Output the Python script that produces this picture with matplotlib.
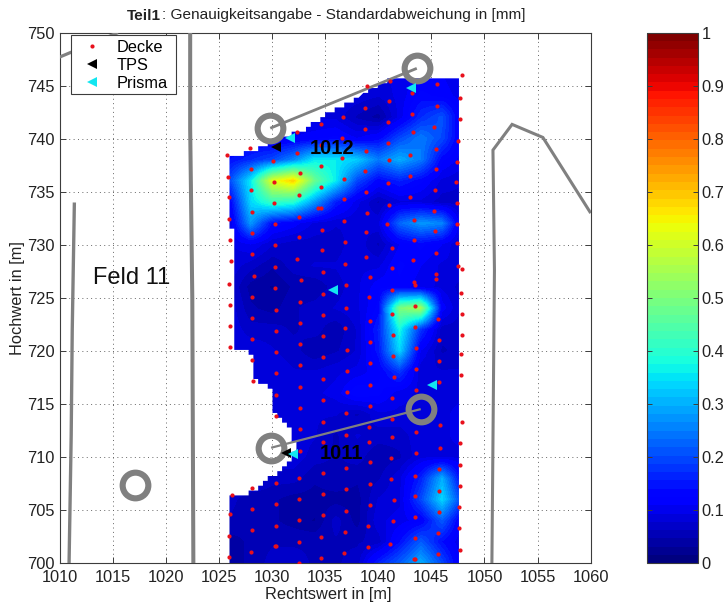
import numpy as np
import matplotlib
matplotlib.use("Agg")
import matplotlib.pyplot as plt
from matplotlib.patches import Polygon, Rectangle
from matplotlib.lines import Line2D

plt.rcParams['font.family'] = ['Liberation Sans', 'DejaVu Sans']

# ---------- data ----------
grid_x = [1026, 1028, 1030, 1032, 1034, 1036, 1038, 1040, 1042, 1044, 1046, 1048]
grid_y = [746, 744, 742, 740, 738, 736, 734, 732, 730, 728, 726, 724,
          722, 720, 718, 716, 714, 712, 710, 708, 706, 704, 702, 700]
grid_z = [
    [.09, .09, .09, .09, .09, .09, .09, .09, .10, .11, .11, .09],
    [.09, .09, .09, .09, .09, .09, .09, .08, .10, .13, .12, .10],
    [.09, .09, .09, .09, .09, .09, .06, .04, .10, .17, .21, .10],
    [.11, .11, .10, .11, .12, .13, .11, .13, .20, .25, .20, .10],
    [.14, .17, .20, .26, .36, .36, .33, .25, .30, .25, .13, .10],
    [.20, .36, .62, .69, .48, .36, .20, .13, .16, .13, .09, .08],
    [.12, .34, .42, .40, .28, .16, .10, .06, .09, .09, .07, .07],
    [.09, .28, .14, .12, .09, .08, .08, .09, .23, .28, .26, .07],
    [.09, .11, .08, .07, .07, .07, .09, .06, .11, .13, .11, .07],
    [.09, .07, .05, .07, .08, .08, .09, .09, .13, .11, .09, .09],
    [.08, .04, .03, .05, .05, .07, .09, .12, .12, .10, .09, .07],
    [.09, .05, .04, .06, .07, .08, .09, .13, .50, .55, .12, .07],
    [.09, .07, .07, .06, .07, .05, .08, .16, .38, .18, .07, .07],
    [.09, .09, .08, .07, .05, .06, .08, .15, .34, .11, .06, .07],
    [.09, .09, .09, .08, .08, .09, .10, .12, .18, .08, .08, .08],
    [.09, .09, .09, .09, .09, .10, .14, .13, .10, .09, .09, .09],
    [.09, .09, .09, .09, .08, .08, .06, .09, .09, .09, .09, .10],
    [.09, .09, .09, .09, .08, .06, .08, .07, .07, .09, .09, .10],
    [.09, .09, .09, .09, .07, .06, .07, .05, .06, .09, .09, .09],
    [.09, .09, .07, .07, .05, .06, .05, .06, .09, .16, .30, .11],
    [.07, .05, .05, .04, .04, .04, .04, .08, .09, .20, .34, .18],
    [.06, .05, .05, .04, .03, .07, .04, .09, .10, .12, .22, .10],
    [.04, .05, .06, .06, .06, .06, .06, .07, .14, .22, .14, .09],
    [.04, .05, .07, .07, .06, .06, .07, .16, .22, .30, .20, .09],
]

deck_x = [
    1025.77, 1025.83, 1026.0, 1025.96, 1026.09, 1026.12, 1026.0, 1026.06, 1026.06, 1026.06, 1026.2, 1026.06, 1026.0, 1025.95,
    1027.97, 1028.03, 1028.03, 1028.1, 1028.1, 1028.16, 1028.29, 1028.16, 1028.16, 1028.16, 1028.16, 1028.23, 1028.16, 1028.16, 1028.1, 1028.03,
    1030.1, 1030.2, 1030.2, 1030.27, 1030.27, 1030.3, 1030.27, 1030.34, 1030.4, 1030.4, 1030.4, 1030.34, 1030.34, 1030.4, 1030.34, 1030.34, 1030.34, 1030.27,
    1032.4, 1032.4, 1032.6, 1032.5, 1032.5, 1032.5, 1032.4, 1032.7, 1032.6, 1032.6, 1032.6, 1032.6, 1032.6, 1032.6, 1032.64, 1032.6, 1032.55, 1032.55, 1032.55, 1032.5, 1032.5,
    1034.62, 1034.6, 1034.6, 1034.62, 1034.3, 1034.6, 1034.7, 1034.7, 1034.78, 1034.78, 1034.78, 1034.78, 1034.78, 1034.78, 1034.78, 1034.78, 1034.78, 1034.78, 1034.78, 1034.78, 1034.62, 1034.62,
    1036.66, 1036.63, 1036.63, 1036.76, 1036.76, 1036.82, 1036.88, 1036.88, 1036.95, 1036.95, 1036.88, 1037.1, 1037.03, 1037.03, 1036.95, 1036.95, 1036.95, 1036.95, 1036.95, 1036.88, 1036.82,
    1038.92, 1038.8, 1038.8, 1038.87, 1038.75, 1038.87, 1038.92, 1038.87, 1038.87, 1039.2, 1039.1, 1039.24, 1039.24, 1039.24, 1039.24, 1039.24, 1039.14, 1039.14, 1039.24, 1039.24, 1039.24, 1039.08, 1039.08,
    1041.1, 1041.06, 1040.93, 1040.93, 1041.03, 1040.9, 1041.0, 1040.84, 1041.28, 1041.25, 1041.28, 1041.34, 1041.37, 1041.37, 1041.44, 1041.3, 1041.27, 1041.27, 1041.18, 1041.24, 1041.47, 1041.37, 1041.14,
    1043.2, 1043.16, 1043.3, 1043.0, 1043.0, 1043.0, 1043.4, 1043.4, 1043.3, 1043.4, 1043.5, 1043.5, 1043.5, 1043.57, 1043.57, 1043.57, 1043.57, 1043.57, 1043.5, 1043.5, 1043.5, 1043.44, 1043.44, 1043.4,
    1045.55, 1045.55, 1045.26, 1045.42, 1045.42, 1045.36, 1045.26, 1045.36, 1045.42, 1045.48, 1045.48, 1045.67, 1045.7, 1045.7, 1045.74, 1045.77, 1045.77, 1045.74, 1045.74, 1045.74, 1045.67, 1045.64,
    1047.93, 1047.74, 1047.74, 1047.52, 1047.43, 1047.3, 1047.4, 1047.4, 1047.4, 1047.52, 1047.87, 1047.77, 1047.9, 1047.87, 1047.8, 1047.8, 1047.9, 1047.72, 1047.72, 1047.72, 1047.62, 1047.65, 1047.72,
]
deck_y = [
    738.47, 736.43, 734.51, 732.47, 730.43, 728.45, 726.34, 724.37, 722.36, 720.37, 706.4, 704.6, 702.6, 700.64,
    739.16, 737.18, 735.14, 733.13, 731.12, 729.11, 727.07, 725.09, 723.11, 721.13, 719.2, 717.17, 707.12, 705.08, 703.1, 701.1,
    737.87, 735.96, 733.91, 731.94, 729.96, 727.88, 725.9, 723.86, 721.9, 719.9, 717.9, 715.87, 713.9, 707.55, 705.57, 703.55, 701.6, 701.6,
    740.64, 738.69, 736.74, 734.73, 732.66, 730.71, 728.67, 726.69, 724.65, 722.64, 720.66, 718.68, 716.63, 714.65, 712.7, 710.6, 708.05, 706.05, 704.07, 702.0, 700.05,
    741.42, 739.41, 737.46, 735.49, 733.5, 733.5, 731.43, 729.5, 727.41, 725.37, 723.39, 721.41, 719.44, 717.36, 715.4, 713.34, 711.4, 708.5, 706.5, 704.52, 702.5, 700.5,
    742.08, 740.1, 738.16, 736.21, 734.29, 732.25, 730.24, 728.23, 726.19, 724.02, 722.2, 720.13, 718.15, 716.16, 714.13, 712.1, 708.99, 707.0, 704.94, 702.96, 700.97,
    744.97, 742.87, 740.89, 738.88, 736.99, 735.01, 733.03, 731.18, 728.86, 727.0, 725.05, 722.86, 720.85, 718.9, 716.83, 714.85, 712.87, 711.46, 709.5, 707.5, 705.47, 703.5, 701.5,
    745.48, 743.59, 741.55, 739.63, 738.0, 735.8, 733.76, 731.94, 729.67, 727.85, 725.75, 723.52, 721.54, 719.56, 717.6, 715.54, 713.56, 711.9, 709.95, 707.97, 705.94, 704.03, 701.8,
    744.35, 742.3, 740.67, 738.47, 736.52, 734.51, 732.34, 730.49, 728.57, 726.5, 726.19, 724.21, 722.3, 720.32, 718.27, 716.35, 712.4, 710.42, 708.25, 706.37, 704.4, 702.4, 700.45, 700.45,
    745.19, 743.12, 741.08, 739.04, 737.12, 735.2, 733.22, 731.34, 729.26, 727.3, 726.75, 722.98, 721.0, 719.03, 717.05, 712.99, 710.9, 708.85, 706.86, 704.88, 702.9, 700.86,
    745.98, 743.87, 741.83, 739.79, 737.78, 735.89, 733.98, 731.99, 730.14, 728.0, 727.76, 725.43, 723.49, 721.54, 719.71, 717.78, 713.34, 711.3, 709.3, 707.33, 705.35, 703.37, 701.3,
]
tps_x = [1030.39, 1031.33]
tps_y = [739.25, 710.42]
prisma_x = [1031.65, 1035.7, 1043.07, 1045.1, 1031.96]
prisma_y = [740.04, 725.75, 744.82, 716.8, 710.3]

# map geometry, in metres
road_a_x, road_a_y = [1010.0, 1015.5], [747.7, 750.0]
road_b_x, road_b_y = [1011.4, 1011.3, 1011.2, 1011.1, 1010.9], [734.0, 728.0, 722.0, 712.0, 700.0]
road_c_x, road_c_y = [1022.3, 1022.3, 1022.5, 1022.6], [750.0, 741.0, 725.0, 700.0]
road_d_x = [1050.7, 1050.94, 1050.8, 1052.6, 1055.5, 1060.0]
road_d_y = [700.0, 727.6, 738.94, 741.36, 740.13, 733.0]
link_a_x, link_a_y = [1029.84, 1043.63], [741.0, 746.64]
link_b_x, link_b_y = [1029.92, 1044.0], [710.89, 714.53]
ring_x = [1029.84, 1043.63, 1029.92, 1044.0, 1017.1]
ring_y = [741.0, 746.64, 710.89, 714.53, 707.4]

field_x = [1026.05, 1027.0, 1028.9, 1031.4, 1032.65, 1035.8, 1039.0, 1041.1, 1042.1, 1047.6, 1047.6,
           1026.05, 1026.05, 1027.3, 1028.4, 1029.2, 1030.8, 1031.9, 1032.2, 1032.0, 1031.1, 1030.2,
           1030.2, 1029.35, 1028.4, 1028.4, 1027.0, 1026.37, 1026.37, 1026.05]
field_y = [738.56, 738.56, 739.1, 740.35, 740.67, 742.7, 744.44, 745.54, 745.73, 745.73, 700.0,
           700.0, 706.4, 706.4, 706.8, 707.7, 708.8, 709.8, 711.0, 712.0, 713.4, 714.2,
           716.4, 717.0, 717.3, 719.6, 720.1, 720.1, 731.65, 731.65]

xticks = list(range(1010, 1061, 5))
yticks = list(range(700, 751, 5))
cticks = [0, .1, .2, .3, .4, .5, .6, .7, .8, .9, 1]
cticklabels = ['0', '0.1', '0.2', '0.3', '0.4', '0.5', '0.6', '0.7', '0.8', '0.9', '1']

# ---------- figure ----------
W, H = 726, 605
fig = plt.figure(figsize=(W / 100, H / 100), dpi=100, facecolor='white')
ax = fig.add_axes([59.5 / W, 1 - 563.3 / H, 531.2 / W, 530.6 / H])
cax = fig.add_axes([647.3 / W, 1 - 563.3 / H, 50.4 / W, 530.6 / H])

EDGE = '#3c3c3c'
GRAY = '#808080'
TXT = '#222222'
FS = 11.8
TFS = 11.1
cmap = plt.get_cmap('jet', 64)

dx, dy = (grid_x[1] - grid_x[0]) / 2, (grid_y[0] - grid_y[1]) / 2
im = ax.imshow(np.array(grid_z), cmap=cmap, vmin=0, vmax=1, origin='upper',
               extent=[grid_x[0] - dx, grid_x[-1] + dx, grid_y[-1] - dy, grid_y[0] + dy],
               interpolation='bilinear', interpolation_stage='data', aspect='auto', zorder=1)

# the field outline is stepped, as the surface was sampled on a fine raster
fx, fy = np.array(field_x), np.array(field_y)
t = np.linspace(0, len(fx), 3000)
closed_x, closed_y = np.r_[fx, fx[0]], np.r_[fy, fy[0]]
sx = np.interp(t, np.arange(len(closed_x)), closed_x)
sy = np.interp(t, np.arange(len(closed_y)), closed_y)
stepx, stepy = 0.45, 0.457
sx = 1026.0 + np.round((sx - 1026.0) / stepx) * stepx
sy = 700.0 + np.round((sy - 700.0) / stepy) * stepy
clip = Polygon(np.c_[sx, sy], closed=True, transform=ax.transData, fc='none', ec='none')
ax.add_patch(clip)
im.set_clip_path(clip)

ax.set_xlim(1010, 1060)
ax.set_ylim(700, 750)
ax.set_xticks(xticks)
ax.set_yticks(yticks)
ax.set_axisbelow(True)
ax.grid(True, color='#666666', ls=(0, (1, 3.5)), lw=0.7)
ax.tick_params(direction='in', top=True, right=True, length=4.5, width=0.7, color=EDGE,
               labelsize=FS, labelcolor=TXT)
ax.tick_params(axis='x', pad=5)
ax.tick_params(axis='y', pad=3.5)
for s in ax.spines.values():
    s.set_color(EDGE)
    s.set_linewidth(0.8)

line_kw = dict(color=GRAY, solid_capstyle='butt', solid_joinstyle='miter', zorder=3)
ax.plot(road_a_x, road_a_y, lw=2.3, **line_kw)
ax.plot(road_b_x, road_b_y, lw=2.4, **line_kw)
ax.plot(road_c_x, road_c_y, lw=2.9, **line_kw)
ax.plot(road_d_x, road_d_y, lw=2.2, **line_kw)
ax.plot(link_a_x, link_a_y, lw=2.0, **line_kw)
ax.plot(link_b_x, link_b_y, lw=1.6, **line_kw)
ax.plot(ring_x, ring_y, ls='none', marker='o', ms=18.5, mfc='none', mec=GRAY, mew=4.4, zorder=4)

ax.plot(deck_x, deck_y, ls='none', marker='o', ms=3.0, color='#e8101c', mew=0, zorder=5)
ax.plot(tps_x, tps_y, ls='none', marker='<', ms=7, color='black', mew=0, zorder=6)
ax.plot(prisma_x, prisma_y, ls='none', marker='<', ms=7, color='#12e6f0', mew=0, zorder=6)

ax.text(1035.7, 739.1, '1012', fontsize=14.5, fontweight='bold', ha='center', va='center', zorder=7, color='black')
ax.text(1036.5, 710.3, '1011', fontsize=14.5, fontweight='bold', ha='center', va='center', zorder=7, color='black')
ax.text(1016.8, 726.9, 'Feld 11', fontsize=17, ha='center', va='center', zorder=7, color='#111111')

ax.set_xlabel('Rechtswert in [m]', fontsize=FS, color=TXT)
ax.set_ylabel('Hochwert in [m]', fontsize=FS, labelpad=1.5, color=TXT)
ax.xaxis.set_label_coords(0.5 + 3.0 / 531.2, -(587.5 - 563.3) / 530.6)
title_bold = fig.text(127 / W, 1 - 15.5 / H, 'Teil1', fontsize=TFS, fontweight='bold', ha='left', va='center', color=TXT)
fig.canvas.draw()
bb = title_bold.get_window_extent()
fig.text((bb.x1 + 0.5) / W, 1 - 15.5 / H, ': Genauigkeitsangabe - Standardabweichung in [mm]',
         fontsize=TFS, ha='left', va='center', color=TXT)

# legend box, then the entries without their own frame
ax.add_patch(Rectangle((70.7 / W, 1 - 94 / H), 105.6 / W, 58.7 / H, transform=fig.transFigure,
                       fc='white', ec=EDGE, lw=0.8, zorder=9))
handles = [
    Line2D([], [], ls='none', marker='o', ms=3.0, color='#e8101c', mew=0),
    Line2D([], [], ls='none', marker='<', ms=7.5, color='black', mew=0),
    Line2D([], [], ls='none', marker='<', ms=7.5, color='#12e6f0', mew=0),
]
leg = ax.legend(handles, ['Decke', 'TPS', 'Prisma'], loc='upper left',
                bbox_to_anchor=(70.7 / W, 1 - 35.3 / H), bbox_transform=fig.transFigure,
                borderaxespad=0, fontsize=FS, frameon=False,
                borderpad=0.3, labelspacing=0.18, handlelength=1.95, handletextpad=0.55)
leg.set_zorder(10)

cb = fig.colorbar(im, cax=cax, ticks=cticks)
cb.ax.set_yticklabels(cticklabels)
cax.tick_params(direction='in', left=True, right=True, length=3.8, width=0.7, color=EDGE,
                labelsize=FS, pad=3, labelcolor=TXT)
cb.outline.set_edgecolor(EDGE)
cb.outline.set_linewidth(0.8)

fig.savefig('out.png', dpi=100)
